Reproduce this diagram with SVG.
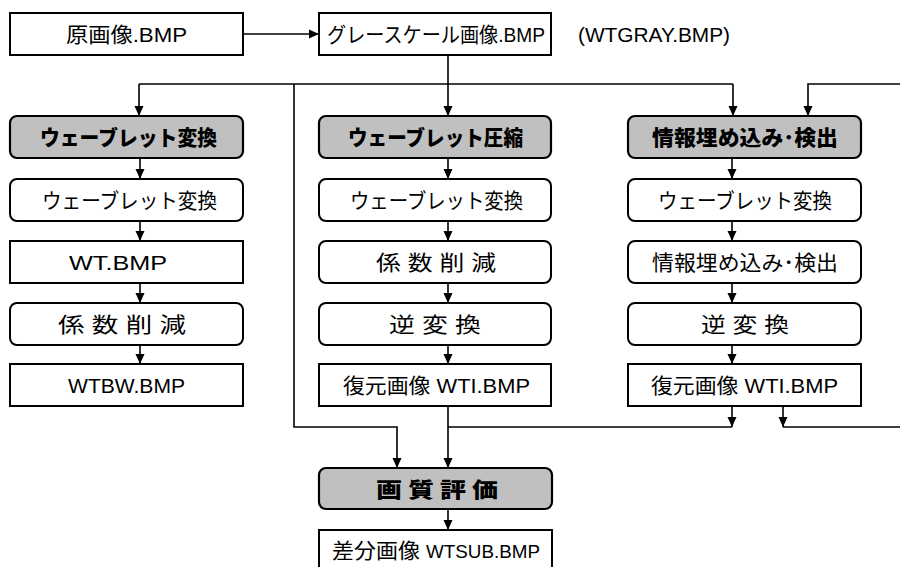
<svg xmlns="http://www.w3.org/2000/svg" width="900" height="567" viewBox="0 0 900 567">
<style>
.box{fill:#fff;stroke:#000;stroke-width:2}
.gray{fill:#c0c0c0;stroke:#000;stroke-width:2.2}
.t{font-family:"Liberation Sans","Noto Sans CJK JP",sans-serif;font-size:21px;fill:#000;text-anchor:middle}
.b{font-family:"Noto Sans CJK JP","Liberation Sans",sans-serif;font-size:21px;font-weight:900;fill:#000;text-anchor:middle}
.ln{fill:none;stroke:#000;stroke-width:1.6}
</style>
<defs>
<marker id="ah" markerUnits="userSpaceOnUse" markerWidth="10" markerHeight="10" viewBox="0 0 10 10" refX="10" refY="5" orient="auto">
<path d="M0,0.5 L10,5 L0,9.5 z" fill="#000"/>
</marker>
</defs>
<rect width="900" height="567" fill="#fff"/>

<g id="connectors">
<path class="ln" d="M243,34 H319" marker-end="url(#ah)"/>
<path class="ln" d="M448,55 V116" marker-end="url(#ah)"/>
<path class="ln" d="M139,84 H733"/>
<path class="ln" d="M139,84 V116" marker-end="url(#ah)"/>
<path class="ln" d="M733,84 V116" marker-end="url(#ah)"/>
<path class="ln" d="M900,84 H808 V116" marker-end="url(#ah)"/>
<path class="ln" d="M294,84 V427 H397 V468" marker-end="url(#ah)"/>
<path class="ln" d="M140,158 V179" marker-end="url(#ah)"/>
<path class="ln" d="M140,221 V241" marker-end="url(#ah)"/>
<path class="ln" d="M140,283 V303" marker-end="url(#ah)"/>
<path class="ln" d="M140,345 V364" marker-end="url(#ah)"/>
<path class="ln" d="M448,158 V179" marker-end="url(#ah)"/>
<path class="ln" d="M448,221 V241" marker-end="url(#ah)"/>
<path class="ln" d="M448,283 V303" marker-end="url(#ah)"/>
<path class="ln" d="M448,345 V364" marker-end="url(#ah)"/>
<path class="ln" d="M732,158 V179" marker-end="url(#ah)"/>
<path class="ln" d="M732,221 V241" marker-end="url(#ah)"/>
<path class="ln" d="M732,283 V303" marker-end="url(#ah)"/>
<path class="ln" d="M732,345 V364" marker-end="url(#ah)"/>
<path class="ln" d="M448,406 V468" marker-end="url(#ah)"/>
<path class="ln" d="M448,427 H732"/>
<path class="ln" d="M732,406 V427" marker-end="url(#ah)"/>
<path class="ln" d="M900,427 H783"/>
<path class="ln" d="M783,406 V427" marker-end="url(#ah)"/>
<path class="ln" d="M448,509 V530" marker-end="url(#ah)"/>
</g>

<g id="n-original">
<rect class="box" x="10" y="13" width="233" height="42"/>
<text class="t" x="126.5" y="41.5" textLength="121" lengthAdjust="spacingAndGlyphs">原画像.BMP</text>
</g>
<g id="n-gray">
<rect class="box" x="319" y="13" width="232" height="42"/>
<text class="t" x="436" y="41.5" textLength="218" lengthAdjust="spacingAndGlyphs">グレースケール画像.BMP</text>
</g>
<g id="n-wtgray-label">
<text class="t" x="654" y="41.5" textLength="152" lengthAdjust="spacingAndGlyphs">(WTGRAY.BMP)</text>
</g>

<g id="n-L1">
<rect class="gray" x="10" y="116" width="233" height="42" rx="7"/>
<text class="b" x="128.5" y="144.5" textLength="177" lengthAdjust="spacingAndGlyphs">ウェーブレット変換</text>
</g>
<g id="n-L2">
<rect class="box" x="10" y="179" width="233" height="42" rx="7"/>
<text class="t" x="129.5" y="207.5" textLength="175" lengthAdjust="spacingAndGlyphs">ウェーブレット変換</text>
</g>
<g id="n-L3">
<rect class="box" x="10" y="241" width="233" height="42"/>
<text class="t" x="118" y="269.5" textLength="98" lengthAdjust="spacingAndGlyphs">WT.BMP</text>
</g>
<g id="n-L4">
<rect class="box" x="10" y="303" width="233" height="42" rx="7"/>
<text class="t" x="122" y="331.5" textLength="128" lengthAdjust="spacingAndGlyphs">係 数 削 減</text>
</g>
<g id="n-L5">
<rect class="box" x="10" y="364" width="233" height="42"/>
<text class="t" x="126.5" y="392.5" textLength="117" lengthAdjust="spacingAndGlyphs">WTBW.BMP</text>
</g>

<g id="n-M1">
<rect class="gray" x="319" y="116" width="232" height="42" rx="7"/>
<text class="b" x="435.5" y="144.5" textLength="175" lengthAdjust="spacingAndGlyphs">ウェーブレット圧縮</text>
</g>
<g id="n-M2">
<rect class="box" x="319" y="179" width="232" height="42" rx="7"/>
<text class="t" x="436.5" y="207.5" textLength="173" lengthAdjust="spacingAndGlyphs">ウェーブレット変換</text>
</g>
<g id="n-M3">
<rect class="box" x="319" y="241" width="232" height="42" rx="7"/>
<text class="t" x="436" y="269.5" textLength="120" lengthAdjust="spacingAndGlyphs">係 数 削 減</text>
</g>
<g id="n-M4">
<rect class="box" x="319" y="303" width="232" height="42" rx="7"/>
<text class="t" x="435" y="331.5" textLength="92" lengthAdjust="spacingAndGlyphs">逆 変 換</text>
</g>
<g id="n-M5">
<rect class="box" x="319" y="364" width="232" height="42"/>
<text class="t" x="436.5" y="392.5" textLength="187" lengthAdjust="spacingAndGlyphs">復元画像 WTI.BMP</text>
</g>

<g id="n-R1">
<rect class="gray" x="628" y="116" width="233" height="42" rx="7"/>
<text class="b" x="745" y="144.5" textLength="186" lengthAdjust="spacingAndGlyphs">情報埋め込み･検出</text>
</g>
<g id="n-R2">
<rect class="box" x="628" y="179" width="233" height="42" rx="7"/>
<text class="t" x="745" y="207.5" textLength="174" lengthAdjust="spacingAndGlyphs">ウェーブレット変換</text>
</g>
<g id="n-R3">
<rect class="box" x="628" y="241" width="233" height="42" rx="7"/>
<text class="t" x="745" y="269.5" textLength="186" lengthAdjust="spacingAndGlyphs">情報埋め込み･検出</text>
</g>
<g id="n-R4">
<rect class="box" x="628" y="303" width="233" height="42" rx="7"/>
<text class="t" x="745" y="331.5" textLength="88" lengthAdjust="spacingAndGlyphs">逆 変 換</text>
</g>
<g id="n-R5">
<rect class="box" x="628" y="364" width="233" height="42"/>
<text class="t" x="744.5" y="392.5" textLength="187" lengthAdjust="spacingAndGlyphs">復元画像 WTI.BMP</text>
</g>

<g id="n-eval">
<rect class="gray" x="319" y="468" width="233" height="41" rx="7"/>
<text class="b" x="437" y="496.5" textLength="122" lengthAdjust="spacingAndGlyphs">画 質 評 価</text>
</g>
<g id="n-diff">
<rect class="box" x="319" y="530" width="233" height="45"/>
<text class="t" x="436" y="558" textLength="208" lengthAdjust="spacingAndGlyphs">差分画像 <tspan font-size="18">WTSUB.BMP</tspan></text>
</g>
</svg>
